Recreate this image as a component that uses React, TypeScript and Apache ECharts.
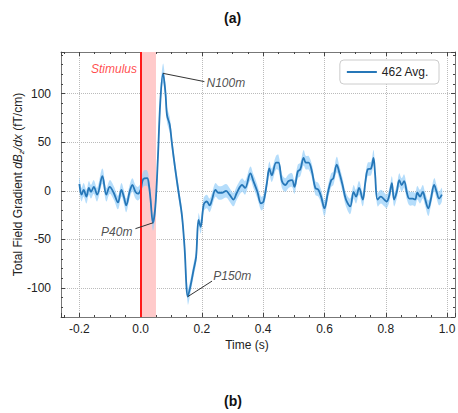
import React, { useEffect, useRef } from "react";
import * as echarts from "echarts";

const FONT = "'Liberation Sans', Arial, Helvetica, sans-serif";

const timeS = [
  -0.2, -0.193, -0.186, -0.177, -0.169, -0.162, -0.153, -0.142, -0.125, -0.112,
  -0.101, -0.088, -0.074, -0.063, -0.055, -0.047, -0.036, -0.027, -0.017, -0.009,
  0.0, 0.008, 0.021, 0.027, 0.032, 0.04, 0.048, 0.056, 0.064, 0.073,
  0.081, 0.086, 0.095, 0.102, 0.113, 0.124, 0.135, 0.143, 0.154, 0.162,
  0.173, 0.181, 0.189, 0.196, 0.206, 0.216, 0.225, 0.233, 0.244, 0.254,
  0.265, 0.279, 0.29, 0.303, 0.314, 0.331, 0.341, 0.358, 0.368, 0.381,
  0.393, 0.401, 0.412, 0.42, 0.428, 0.442, 0.45, 0.461, 0.472, 0.483,
  0.494, 0.502, 0.513, 0.521, 0.532, 0.539, 0.548, 0.559, 0.57, 0.58,
  0.589, 0.6, 0.611, 0.622, 0.629, 0.64, 0.649, 0.659, 0.67, 0.684,
  0.695, 0.703, 0.713, 0.725, 0.733, 0.741, 0.752, 0.76, 0.765, 0.773,
  0.784, 0.795, 0.803, 0.812, 0.82, 0.827, 0.836, 0.844, 0.852, 0.86,
  0.869, 0.877, 0.888, 0.896, 0.903, 0.912, 0.921, 0.928, 0.939, 0.947,
  0.958, 0.966, 0.974, 0.983,
];

const avgGradient = [
  7, -4, 1, -6, 3, -1, 4, -4, 15, -4,
  4, -2, -12, 1, -6, -15, -1, 6, -1, -3,
  1, 12, 13, 6, -8, -33, -16, 32, 91, 121,
  101, 78, 68, 49, 22, -2, -26, -57, -109, -99,
  -81, -68, -30, -37, -14, -11, -15, -9, 1, -2,
  -2, 0, -4, -9, -2, 6, 3, 18, 10, -1,
  -13, -11, 8, 23, 16, 29, 29, 10, 6, 10,
  11, 4, 20, 22, 34, 29, 29, 20, 3, 1,
  -6, -18, -2, 11, 13, 27, 18, 6, -9, -16,
  -1, -6, 3, -9, 8, 22, 23, 34, 18, -9,
  -6, -9, -11, -4, 8, -9, -1, 11, 6, 10,
  -2, -8, -8, -9, -2, -6, -1, -8, -18, -9,
  6, -1, -8, -4,
];

const semGradient = [
  7, 7, 7, 7, 7, 7, 7, 7, 8, 7,
  7, 7, 7, 7, 7, 7, 7, 7, 7, 7,
  7, 8, 8, 7, 7, 8, 8, 9, 9, 10,
  9, 8, 8, 7, 7, 7, 7, 7, 8, 7,
  7, 7, 7, 7, 7, 7, 7, 7, 7, 7,
  7, 7, 7, 7, 7, 7, 7, 7, 7, 7,
  7, 7, 7, 7, 7, 7, 8, 7, 7, 7,
  7, 7, 7, 7, 8, 7, 7, 7, 7, 7,
  7, 8, 7, 7, 7, 8, 7, 7, 7, 8,
  7, 7, 7, 7, 7, 7, 7, 8, 7, 7,
  7, 7, 7, 7, 7, 7, 7, 7, 7, 7,
  7, 7, 7, 7, 7, 7, 7, 7, 8, 7,
  7, 7, 7, 7,
];

const xTicks = { min: -0.26, max: 1.026, step: 0.2 };
const yTicks = { min: -130, max: 143, step: 50 };

const stimulusWindow = [0, 0.05];

// annotation: [label, peakT, peakV, lineEndT, lineEndV, textT, textV, side]
const peakNotes: [string, number, number, number, number, number, number, string][] = [
  ["N100m", 0.073, 121, 0.208, 112.5, 0.215, 111, "right"],
  ["P40m", 0.04, -33, -0.017, -39, -0.027, -42, "left"],
  ["P150m", 0.154, -109, 0.233, -93, 0.237, -88, "right"],
];

const legendName = "462 Avg.";
const SMOOTH = 0.35;

export default function App() {
  const ref = useRef<HTMLDivElement>(null);
  useEffect(() => {
    if (!ref.current) return;
    const chart = echarts.init(ref.current, undefined, { renderer: "svg" });

    const mean = timeS.map((t, i) => [t, avgGradient[i]]);
    const bandData = timeS.map((t, i) => [
      t,
      avgGradient[i] - semGradient[i],
      avgGradient[i] + semGradient[i],
    ]);

    const axisColor = "#777";
    const tickColor = "#444";

    const xBase = {
      type: "value",
      min: xTicks.min,
      max: xTicks.max,
      minInterval: xTicks.step,
      maxInterval: xTicks.step,
      axisLine: { show: true, onZero: false, lineStyle: { color: axisColor, width: 1 } },
      axisTick: { show: true, inside: true, length: 4, lineStyle: { color: tickColor } },
      minorTick: { show: true, splitNumber: 4, length: 2, lineStyle: { color: tickColor } },
    };
    const yBase = {
      type: "value",
      min: yTicks.min,
      max: yTicks.max,
      minInterval: yTicks.step,
      maxInterval: yTicks.step,
      axisLine: { show: true, onZero: false, lineStyle: { color: axisColor, width: 1 } },
      axisTick: { show: true, inside: true, length: 4, lineStyle: { color: tickColor } },
      minorTick: { show: true, splitNumber: 5, length: 2, lineStyle: { color: tickColor } },
    };

    const renderBand = (params: any, api: any) => {
      if (params.dataIndex !== 0) return null;
      const upper = bandData.map((d) => api.coord([d[0], d[2]]));
      const lower = bandData.map((d) => api.coord([d[0], d[1]])).reverse();
      return {
        type: "polygon",
        shape: { points: upper.concat(lower), smooth: SMOOTH },
        style: { fill: "rgba(150,206,250,0.7)", stroke: "none" },
        silent: true,
      };
    };

    const option: any = {
      animation: false,
      textStyle: { fontFamily: FONT },
      grid: { left: 61, right: 3, top: 52, bottom: 96, outerBoundsMode: "none", containLabel: false },
      legend: {
        data: [legendName],
        top: 60,
        right: 19,
        icon: "rect",
        itemWidth: 30,
        itemHeight: 2,
        padding: [6, 10, 6, 7],
        borderColor: "#ccc",
        borderWidth: 1,
        borderRadius: 4,
        backgroundColor: "#fff",
        textStyle: { fontSize: 12, color: "#222", fontFamily: FONT, lineHeight: 12 },
      },
      xAxis: [
        {
          ...xBase,
          position: "bottom",
          splitLine: { show: true, lineStyle: { type: "dotted", color: "#bbb" } },
          axisLabel: {
            show: true,
            showMinLabel: false,
            showMaxLabel: false,
            fontSize: 12,
            color: "#222",
            margin: 6,
            formatter: (v: number) => v.toFixed(1),
          },
          name: "Time (s)",
          nameLocation: "middle",
          nameGap: 22,
          nameMoveOverlap: false,
          nameTextStyle: { fontSize: 12, color: "#222", padding: [0, 22, 0, 0] },
        },
        {
          ...xBase,
          position: "top",
          splitLine: { show: false },
          axisLabel: { show: false },
        },
      ],
      yAxis: [
        {
          ...yBase,
          position: "left",
          splitLine: { show: true, lineStyle: { type: "dotted", color: "#bbb" } },
          axisLabel: {
            show: true,
            showMinLabel: false,
            showMaxLabel: false,
            fontSize: 12,
            color: "#222",
            margin: 10,
            formatter: (v: number) => String(Math.round(v)),
          },
          name: "Total Field Gradient {i|dB}{s|z}{i|/dx} (fT/cm)",
          nameLocation: "middle",
          nameRotate: 90,
          nameGap: 36,
          nameMoveOverlap: false,
          nameTextStyle: {
            fontSize: 12,
            color: "#222",
            rich: {
              i: { fontSize: 12, fontStyle: "italic", color: "#222" },
              s: { fontSize: 8, fontStyle: "italic", color: "#222", padding: [6, 0, 0, 0] },
            },
          },
        },
        {
          ...yBase,
          position: "right",
          splitLine: { show: false },
          axisLabel: { show: false },
        },
      ],
      series: [
        {
          name: "band",
          type: "custom",
          data: bandData,
          encode: { x: 0, y: [1, 2] },
          renderItem: renderBand,
          silent: true,
          z: 1,
          markArea: {
            silent: true,
            itemStyle: { color: "#ffcaca" },
            data: [[{ xAxis: stimulusWindow[0] }, { xAxis: stimulusWindow[1] }]],
          },
        },
        {
          name: legendName,
          type: "line",
          data: mean,
          symbol: "none",
          showSymbol: false,
          smooth: SMOOTH,
          lineStyle: { color: "#2677b8", width: 1.8 },
          itemStyle: { color: "#2677b8" },
          z: 3,
        },
        {
          name: "notes",
          type: "scatter",
          symbolSize: 0,
          silent: true,
          z: 4,
          data: [
            ...peakNotes.map((n) => ({
              value: [n[5], n[6]],
              label: {
                show: true,
                formatter: n[0],
                position: n[7],
                distance: 0,
                fontSize: 12,
                fontStyle: "italic",
                color: "#222",
              },
            })),
            {
              value: [-0.012, 125],
              label: {
                show: true,
                formatter: "Stimulus",
                position: "left",
                distance: 0,
                fontSize: 12,
                fontStyle: "italic",
                color: "#ff1a1a",
              },
            },
          ],
          markLine: {
            silent: true,
            symbol: ["none", "none"],
            label: { show: false },
            lineStyle: { color: "#333", width: 1, type: "solid" },
            data: [
              { xAxis: 0, lineStyle: { color: "#ff1a1a", width: 2, type: "solid" } },
              ...peakNotes.map((n) => [
                { coord: [n[1], n[2]] },
                { coord: [n[3], n[4]] },
              ]),
            ],
          },
        },
      ],
      graphic: [
        {
          type: "text",
          left: 224,
          top: 11,
          style: { text: "(a)", font: `bold 14px ${FONT}`, fill: "#111" },
        },
        {
          type: "text",
          left: 224,
          top: 394,
          style: { text: "(b)", font: `bold 14px ${FONT}`, fill: "#111" },
        },
      ],
    };

    chart.setOption(option);
    return () => chart.dispose();
  }, []);

  return (
    <div
      ref={ref}
      style={{ position: "fixed", left: 0, top: 0, width: 458, height: 413, background: "#fff" }}
    />
  );
}
